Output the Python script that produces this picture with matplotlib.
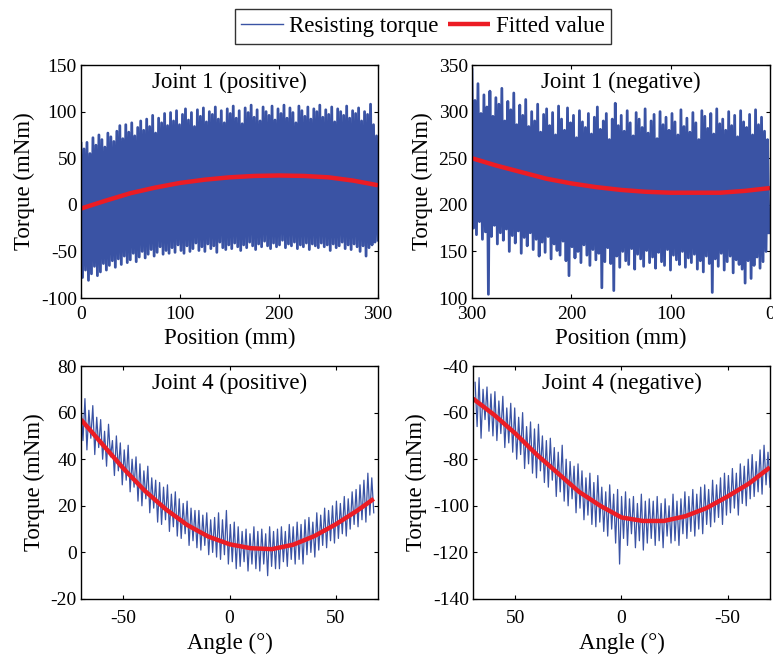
import numpy as np
import matplotlib
matplotlib.use("Agg")
import matplotlib.pyplot as plt

plt.rcParams["font.family"] = ["Liberation Serif", "DejaVu Serif"]
plt.rcParams["axes.unicode_minus"] = False

BLUE = "#3a53a4"
RED = "#ec1c24"

# ---- Joint 1 (positive): resisting torque peaks / troughs, 0 -> 300 mm
tl_peaks = [66, 60, 67, 55, 72, 64, 75, 70, 62, 77,
            73, 68, 79, 85, 71, 86, 78, 88, 74, 83,
            90, 80, 92, 84, 96, 77, 93, 88, 98, 85,
            99, 90, 101, 86, 97, 103, 91, 99, 84, 102,
            95, 104, 89, 100, 97, 105, 92, 101, 88, 103,
            98, 106, 93, 101, 87, 104, 99, 107, 94, 102,
            90, 105, 100, 96, 106, 91, 103, 98, 107, 93,
            104, 99, 88, 106, 101, 95, 105, 92, 103, 100,
            107, 94, 102, 97, 105, 89, 103, 100, 96, 106,
            93, 101, 98, 104, 90, 100, 97, 108, 86, 74]
tl_troughs = [-78, -70, -81, -74, -66, -76, -72, -63, -70, -65,
              -60, -67, -58, -64, -55, -62, -59, -52, -61, -56,
              -50, -57, -53, -48, -55, -51, -45, -53, -49, -52,
              -46, -51, -43, -49, -52, -44, -50, -47, -41, -49,
              -45, -50, -42, -47, -44, -51, -40, -46, -48, -43,
              -47, -41, -45, -49, -43, -46, -40, -44, -48, -42,
              -45, -39, -44, -47, -41, -45, -43, -38, -46, -42,
              -44, -40, -47, -43, -45, -41, -48, -42, -44, -46,
              -41, -45, -43, -49, -42, -46, -44, -40, -47, -43,
              -48, -42, -45, -50, -44, -55, -46, -43, -40, -38]
tl_fit_x = [0, 25, 50, 75, 100, 125, 150, 175, 200, 225, 250, 275, 300]
tl_fit_y = [-4, 4.5, 12.5, 18.5, 23.5, 27, 29.5, 31, 31.5, 31, 29.5, 26, 21]

# ---- Joint 1 (negative): 300 -> 0 mm
tr_peaks = [345, 312, 330, 298, 318, 305, 322, 295, 315, 308,
            325, 290, 311, 302, 320, 286, 307, 296, 313, 284,
            300, 290, 308, 278, 297, 303, 285, 299, 275, 306,
            292, 280, 304, 288, 296, 272, 301, 289, 283, 298,
            276, 294, 305, 281, 290, 298, 270, 292, 309, 285,
            296, 279, 301, 288, 274, 299, 292, 283, 303, 277,
            290, 297, 271, 300, 286, 294, 280, 298, 289, 275,
            302, 284, 293, 278, 299, 288, 270, 301, 295, 282,
            298, 276, 303, 287, 292, 280, 300, 285, 296, 273,
            301, 289, 283, 297, 275, 302, 286, 294, 279, 270]
tr_troughs = [175, 168, 182, 163, 171, 104, 166, 178, 158, 170,
              162, 174, 150, 167, 159, 172, 148, 165, 156, 170,
              152, 163, 145, 160, 149, 166, 142, 158, 151, 146,
              161, 140, 124, 155, 143, 150, 138, 157, 146, 135,
              152, 141, 148, 111, 139, 154, 137, 108, 145, 133,
              150, 140, 136, 153, 131, 147, 142, 134, 151, 138,
              144, 132, 149, 139, 135, 152, 130, 146, 141, 136,
              150, 133, 143, 138, 147, 131, 140, 128, 145, 137,
              106, 142, 134, 148, 130, 139, 145, 127, 141, 136,
              131, 116, 140, 121, 135, 144, 132, 139, 150, 170]
tr_fit_x = [300, 275, 250, 225, 200, 175, 150, 125, 100, 75, 50, 25, 0]
tr_fit_y = [250, 242, 235, 228, 223, 219, 216, 214, 213, 213, 213, 215, 218]

# ---- Joint 4 (positive): -70 -> 68 deg
bl_peaks = [64, 66, 61, 63, 58, 57, 52, 55, 48, 50,
            47, 44, 46, 40, 41, 38, 35, 37, 32, 31,
            30, 28, 29, 25, 26, 23, 21, 22, 19, 18,
            18, 16, 17, 14, 15, 17, 14, 18, 12, 13,
            11, 9, 10, 8, 11, 9, 10, 8, 11, 9,
            10, 11, 9, 12, 11, 13, 12, 14, 15, 13,
            17, 16, 19, 18, 20, 22, 21, 24, 23, 26,
            27, 29, 31, 34, 32]
bl_troughs = [48, 44, 49, 42, 45, 40, 37, 41, 33, 35,
              29, 31, 26, 28, 22, 20, 23, 17, 19, 13,
              12, 14, 9, 11, 7, 6, 8, 3, 5, 2,
              1, 3, -1, 0, -2, -3, -1, -5, -4, -7,
              -6, -4, -8, -5, -7, -8, -5, -10, -6, -7,
              -7, -4, -6, -3, -5, -3, -5, -1, 0, -2,
              1, 3, 2, 5, 4, 6, 8, 7, 10, 12,
              11, 14, 13, 16, 17]
bl_fit_x = [-70, -60, -50, -40, -30, -20, -10, 0, 10, 20, 30, 40, 50, 60, 68]
bl_fit_y = [57, 46.5, 36, 26.5, 18.5, 11.8, 6.8, 3.5, 1.8, 1.4, 3.3, 7, 12, 17.8, 23]

# ---- Joint 4 (negative): 69 -> -70 deg
br_peaks = [-47, -45, -50, -49, -52, -51, -55, -53, -58, -56,
            -58, -62, -60, -66, -64, -67, -65, -70, -72, -71,
            -75, -77, -74, -80, -81, -83, -82, -85, -88, -86,
            -90, -87, -92, -94, -91, -95, -93, -96, -94, -97,
            -96, -99, -95, -98, -97, -98, -96, -99, -97, -100,
            -95, -98, -97, -94, -96, -93, -95, -92, -91, -93,
            -89, -91, -88, -86, -87, -84, -86, -82, -83, -80,
            -78, -81, -76, -74, -77]
br_troughs = [-66, -71, -63, -68, -70, -72, -69, -75, -73, -77,
              -80, -78, -84, -82, -86, -88, -85, -90, -92, -89,
              -96, -94, -98, -100, -97, -103, -101, -106, -104, -108,
              -109, -107, -111, -113, -110, -116, -125, -114, -117, -112,
              -118, -115, -119, -116, -114, -117, -115, -118, -113, -116,
              -115, -117, -112, -114, -111, -113, -110, -112, -108, -109,
              -107, -105, -108, -104, -103, -101, -104, -99, -100, -97,
              -96, -94, -95, -91, -92]
br_fit_x = [70, 60, 50, 40, 30, 20, 10, 0, -10, -20, -30, -40, -50, -60, -70]
br_fit_y = [-54, -61, -69, -78, -86, -94, -100, -105, -106.5, -106.5,
            -104.5, -101, -96, -90.5, -83.5]

panels = [
    dict(peaks=tl_peaks, troughs=tl_troughs, span=(0, 300), fx=tl_fit_x, fy=tl_fit_y,
         xlim=(0, 300), xticks=[0, 100, 200, 300], ylim=(-100, 150),
         yticks=range(-100, 151, 50), title="Joint 1 (positive)", xlabel="Position (mm)",
         rect=[0.1048, 0.545, 0.3842, 0.3557], lw=2.0, xpad=6, lpad=3),
    dict(peaks=tr_peaks, troughs=tr_troughs, span=(300, 1), fx=tr_fit_x, fy=tr_fit_y,
         xlim=(300, 0), xticks=[300, 200, 100, 0], ylim=(100, 350),
         yticks=range(100, 351, 50), title="Joint 1 (negative)", xlabel="Position (mm)",
         rect=[0.6106, 0.545, 0.3855, 0.3557], lw=2.0, xpad=6, lpad=3),
    dict(peaks=bl_peaks, troughs=bl_troughs, span=(-70, 68), fx=bl_fit_x, fy=bl_fit_y,
         xlim=(-70, 70), xticks=[-50, 0, 50], ylim=(-20, 80),
         yticks=range(-20, 81, 20), title="Joint 4 (positive)", xlabel="Angle (°)",
         rect=[0.1048, 0.0855, 0.3842, 0.3557], lw=0.9, xpad=8, lpad=4),
    dict(peaks=br_peaks, troughs=br_troughs, span=(69, -70), fx=br_fit_x, fy=br_fit_y,
         xlim=(70, -70), xticks=[50, 0, -50], ylim=(-140, -40),
         yticks=range(-140, -39, 20), title="Joint 4 (negative)", xlabel="Angle (°)",
         rect=[0.6119, 0.0855, 0.3842, 0.3557], lw=0.9, xpad=8, lpad=4),
]

fig = plt.figure(figsize=(7.73, 6.55), dpi=100)

for p in panels:
    ax = fig.add_axes(p["rect"])
    sig = np.column_stack([p["peaks"], p["troughs"]]).ravel()
    xs = np.linspace(p["span"][0], p["span"][1], len(sig))
    l1, = ax.plot(xs, sig, color=BLUE, lw=p["lw"])
    l2, = ax.plot(p["fx"], p["fy"], color=RED, lw=3.2, solid_capstyle="butt")
    ax.set_xlim(p["xlim"])
    ax.set_ylim(p["ylim"])
    ax.set_xticks(p["xticks"])
    ax.set_yticks(list(p["yticks"]))
    ax.tick_params(direction="in", top=True, right=True, labelsize=14, length=3)
    ax.tick_params(axis="x", pad=p["xpad"])
    ax.tick_params(axis="y", pad=3)
    ax.set_xlabel(p["xlabel"], fontsize=16.5, labelpad=p["lpad"])
    ax.set_ylabel("Torque (mNm)", fontsize=16.5, labelpad=4)
    ax.text(0.5, 0.925, p["title"], transform=ax.transAxes, ha="center", va="center",
            fontsize=16.5)
    for s in ax.spines.values():
        s.set_linewidth(1.0)

leg = fig.legend([l1, l2], ["Resisting torque", "Fitted value"], ncol=2,
                 loc="center", bbox_to_anchor=(0.547, 0.9595), fontsize=16.5,
                 frameon=True, fancybox=False, edgecolor="black", handlelength=1.83,
                 handletextpad=0.26, columnspacing=0.39, borderpad=0.3,
                 borderaxespad=0)
leg.get_frame().set_linewidth(1.0)
leg.legend_handles[0].set_linewidth(1.0)

fig.savefig("out.png", dpi=100)
